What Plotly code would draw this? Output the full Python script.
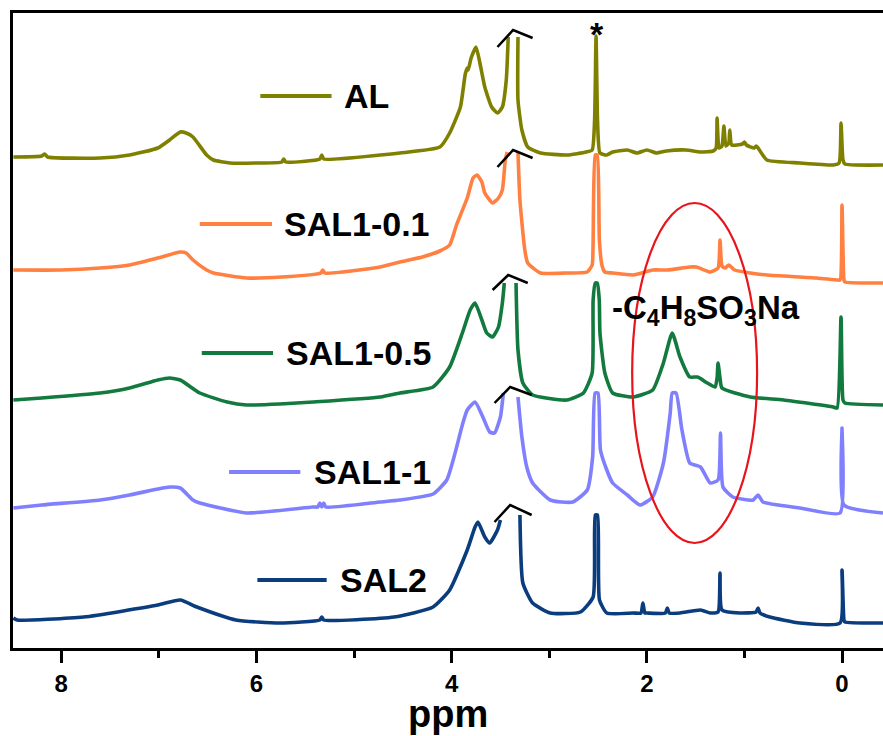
import plotly.graph_objects as go

# ---------------- data (ppm, stacked intensity, arbitrary units) ----------------
series_names = ["AL", "SAL1-0.1", "SAL1-0.5", "SAL1-1", "SAL2"]
series_colors = ["#808000", "#FF8040", "#127A3E", "#8080FF", "#0B3D7E"]

al_ppm = [8.49, 8.20, 8.17, 8.14, 7.60, 7.30, 7.01, 6.89, 6.78, 6.72, 6.65, 6.51, 6.44, 6.27, 6.00,
          5.74, 5.72, 5.70, 5.35, 5.33, 5.31, 4.73, 4.53, 4.12, 4.02, 3.91, 3.86, 3.84, 3.83, 3.80,
          3.75, 3.71, 3.66, 3.59, 3.53, 3.48, 3.44, 3.42, None, 3.32, 3.32, 3.28, 3.22, 3.09, 2.82,
          2.62, 2.56, 2.535, 2.52, 2.505, 2.48, 2.41, 2.35, 2.20, 2.10, 2.00, 1.90, 1.80, 1.60,
          1.45, 1.32, 1.29, 1.28, 1.26, 1.23, 1.21, 1.19, 1.16, 1.15, 1.13, 1.02, 1.00, 0.98,
          0.90, 0.88, 0.86, 0.77, 0.43, 0.09, 0.03, 0.01, -0.01, -0.03, -0.42]
al_int = [491, 492, 494, 491, 490, 493, 500, 508, 516, 515, 511, 493, 488, 485, 485,
          486, 489, 486, 489, 493, 489, 493, 495, 501, 515, 541, 574, 580, 578, 590,
          601, 585, 561, 541, 535, 541, 568, 611, None, 611, 548, 518, 501, 495, 493,
          496, 498, 528, 612, 528, 495, 493, 496, 498, 495, 498, 495, 497, 498,
          496, 497, 500, 530, 500, 502, 522, 502, 505, 518, 503, 504, 506, 503,
          500, 502, 500, 488, 485, 483, 485, 525, 488, 484, 483]

s01_ppm = [8.49, 8.00, 7.60, 7.30, 7.01, 6.78, 6.72, 6.65, 6.51, 6.44, 6.10, 5.74, 5.34, 5.32, 5.30,
           4.73, 4.53, 4.30, 4.12, 4.02, 3.95, 3.84, 3.78, 3.74, 3.69, 3.66, 3.58, 3.52, 3.48, 3.45,
           3.43, None, 3.32, 3.30, 3.25, 3.22, 3.09, 2.82, 2.61, 2.56, 2.55, 2.528, 2.508, 2.486,
           2.46, 2.43, 2.35, 2.14, 1.94, 1.79, 1.56, 1.49, 1.35, 1.27, 1.25, 1.23, 1.20, 1.16, 1.10,
           0.94, 0.77, 0.26, 0.05, 0.02, 0.00, -0.02, -0.03, -0.42]
s01_int = [378, 378, 380, 383, 390, 396, 395, 388, 378, 375, 370, 371, 375, 378, 375,
           381, 386, 391, 397, 403, 423, 450, 470, 473, 466, 455, 445, 450, 458, 488,
           496, None, 496, 448, 398, 385, 375, 375, 376, 383, 408, 493, 493, 408,
           383, 376, 375, 373, 378, 378, 381, 381, 376, 380, 408, 382, 380, 383, 378,
           375, 373, 370, 368, 368, 443, 368, 366, 365]

s05_ppm = [8.49, 8.20, 7.60, 7.30, 7.01, 6.89, 6.78, 6.58, 6.30, 6.10, 5.76, 5.42, 4.73, 4.53, 4.19,
           4.02, 3.89, 3.81, 3.76, 3.69, 3.64, 3.58, 3.52, 3.48, 3.46, None, 3.34, 3.32, 3.27, 3.17,
           2.82, 2.65, 2.56, 2.55, 2.528, 2.508, 2.487, 2.48, 2.43, 2.35, 2.14, 1.94, 1.83, 1.74,
           1.66, 1.56, 1.48, 1.38, 1.30, 1.28, 1.27, 1.25, 1.23, 0.94, 0.60, 0.09, 0.05, 0.01,
           -0.01, -0.03, -0.42]
s05_int = [248, 250, 255, 260, 268, 270, 268, 255, 246, 243, 244, 246, 251, 255, 261,
           281, 315, 338, 345, 328, 315, 311, 321, 345, 365, None, 365, 298, 265, 253,
           248, 255, 275, 348, 365, 365, 348, 315, 275, 255, 251, 258, 285, 315,
           291, 271, 271, 265, 261, 270, 285, 270, 260, 251, 248, 241, 240, 331,
           248, 245, 243]

s1_ppm = [8.49, 8.20, 7.60, 7.30, 7.01, 6.89, 6.78, 6.65, 6.58, 6.10, 5.42, 5.37, 5.35, 5.33, 5.31,
          5.29, 4.73, 4.53, 4.19, 4.05, 3.97, 3.89, 3.84, 3.76, 3.68, 3.61, 3.56, 3.50, 3.47, None,
          3.32, 3.28, 3.23, 3.17, 2.99, 2.76, 2.61, 2.555, 2.53, 2.50, 2.475, 2.41, 2.35, 2.20,
          2.07, 1.94, 1.83, 1.76, 1.74, 1.70, 1.64, 1.56, 1.45, 1.35, 1.27, 1.245, 1.22, 1.12,
          0.91, 0.86, 0.81, 0.43, 0.02, 0.00, -0.02, -0.42]
s1_int = [140, 143, 148, 153, 159, 161, 160, 148, 145, 135, 141, 141, 145, 141, 145,
          141, 146, 148, 154, 168, 193, 223, 238, 246, 231, 216, 215, 231, 255, None,
          251, 211, 181, 165, 148, 146, 158, 191, 255, 255, 198, 178, 165, 153,
          143, 151, 185, 235, 255, 255, 218, 185, 181, 165, 168, 215, 161, 151,
          148, 153, 146, 140, 135, 220, 143, 135]

s2_ppm = [8.49, 8.45, 7.77, 7.01, 6.78, 6.61, 6.21, 5.76, 5.35, 5.33, 5.31, 4.59, 4.19, 4.02, 3.84,
          3.76, 3.73, 3.66, 3.61, 3.53, 3.50, None, 3.30, 3.27, 3.17, 2.99, 2.68, 2.55, 2.528,
          2.505, 2.485, 2.41, 2.14, 2.06, 2.04, 2.02, 2.00, 1.81, 1.79, 1.77, 1.66, 1.45, 1.35,
          1.27, 1.25, 1.23, 1.05, 0.88, 0.86, 0.84, 0.74, 0.43, 0.02, 0.00, -0.02, -0.03, -0.42]
s2_int = [30, 28, 31, 43, 48, 41, 28, 25, 28, 31, 28, 31, 41, 58, 98,
          121, 126, 111, 105, 118, 128, None, 133, 65, 45, 35, 36, 51, 133,
          133, 48, 35, 35, 35, 45, 35, 35, 35, 40, 35, 35, 38, 35,
          36, 75, 38, 35, 36, 40, 35, 31, 25, 25, 78, 28, 26, 25]

series_ppm = [al_ppm, s01_ppm, s05_ppm, s1_ppm, s2_ppm]
series_int = [al_int, s01_int, s05_int, s1_int, s2_int]

x_ticks = [8, 6, 4, 2, 0]

# ---------------- figure ----------------
FONT = "Liberation Sans, Arial, sans-serif"
fig = go.Figure()

for name, color, xs, ys in zip(series_names, series_colors, series_ppm, series_int):
    fig.add_trace(go.Scatter(x=xs, y=ys, mode="lines", name=name,
                             line=dict(color=color, width=3.6, shape="spline", smoothing=0.5),
                             showlegend=False, connectgaps=False, cliponaxis=True))

# hand-drawn style legend (line sample + label)
legend_pos = [  # (x0, x1, y, text_x)
    (5.96, 5.23, 552, 5.12),
    (6.58, 5.84, 424, 5.74),
    (6.56, 5.83, 295, 5.72),
    (6.28, 5.55, 176, 5.43),
    (5.99, 5.28, 68, 5.16),
]
for name, color, (x0, x1, yy, tx) in zip(series_names, series_colors, legend_pos):
    fig.add_shape(type="line", x0=x0, x1=x1, y0=yy, y1=yy, xref="x", yref="y",
                  line=dict(color=color, width=4))
    fig.add_annotation(x=tx, y=yy, xref="x", yref="y", text=name, showarrow=False,
                       xanchor="left", yanchor="middle",
                       font=dict(family=FONT, size=34, color="black", weight="bold"))

# break marks (^) over the truncated solvent peaks
carets = [  # (left, apex, right)
    ((3.53, 601), (3.37, 618), (3.17, 610)),
    ((3.53, 481), (3.37, 498), (3.17, 490)),
    ((3.58, 358), (3.42, 373), (3.22, 365)),
    ((3.56, 245), (3.40, 261), (3.18, 253)),
    ((3.56, 126), (3.40, 143), (3.18, 133)),
]
for (l, a, r) in carets:
    fig.add_shape(type="path", xref="x", yref="y",
                  path=f"M {l[0]},{l[1]} L {a[0]},{a[1]} L {r[0]},{r[1]}",
                  line=dict(color="black", width=2.5))

# asterisk over DMSO peak
fig.add_annotation(x=2.51, y=614, xref="x", yref="y", text="*", showarrow=False,
                   font=dict(family=FONT, size=34, color="black", weight="bold"))

# red ellipse
fig.add_shape(type="circle", xref="x", yref="y", x0=2.15, x1=0.87, y0=105, y1=445,
              line=dict(color="#E8141B", width=2.2))

# group label
fig.add_annotation(x=2.38, y=338, xref="x", yref="y",
                   text="-C<sub>4</sub>H<sub>8</sub>SO<sub>3</sub>Na", showarrow=False,
                   xanchor="left", yanchor="middle",
                   font=dict(family=FONT, size=33, color="black", weight="bold"))

# axis title
fig.add_annotation(x=0.5, y=-0.104, xref="paper", yref="paper", text="ppm",
                   showarrow=False, xanchor="center", yanchor="middle",
                   font=dict(family=FONT, size=38, color="black", weight="bold"))

fig.update_layout(
    width=883, height=736,
    margin=dict(l=13, r=0, t=13, b=88),
    paper_bgcolor="white", plot_bgcolor="white",
    showlegend=False,
    xaxis=dict(range=[8.494, -0.42], tickvals=x_ticks, ticktext=[str(v) for v in x_ticks],
               showgrid=False, zeroline=False, showline=True, linecolor="black", linewidth=3,
               mirror=True, ticks="outside", ticklen=12, tickwidth=3, tickcolor="black",
               tickfont=dict(family=FONT, size=24, color="black", weight="bold"),
               minor=dict(tickvals=[7, 5, 3, 1], ticks="outside", ticklen=7, tickwidth=3,
                          tickcolor="black", showgrid=False)),
    yaxis=dict(range=[0, 635], showgrid=False, zeroline=False, showline=True,
               linecolor="black", linewidth=3, mirror=False, ticks="", showticklabels=False),
)

fig.write_html("out.html")
